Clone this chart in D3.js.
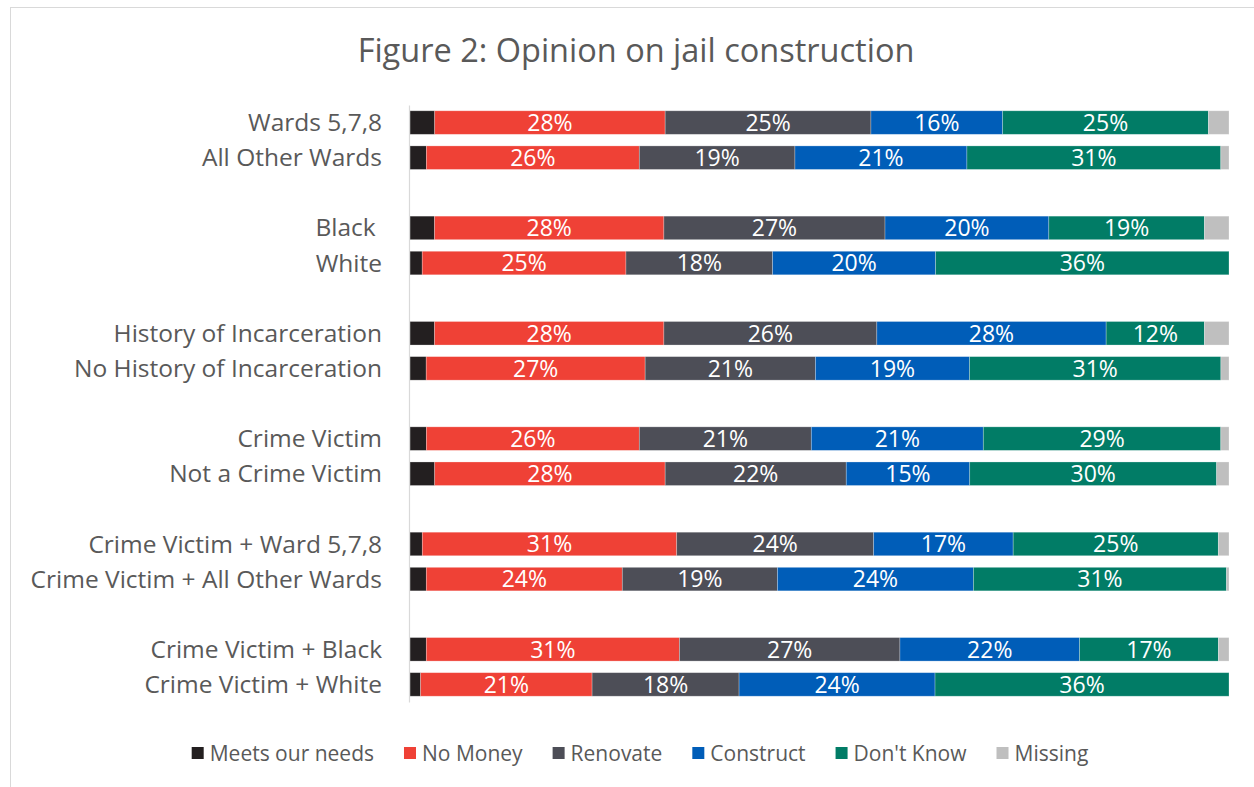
<!DOCTYPE html>
<html>
<head>
<meta charset="utf-8">
<script src="https://cdn.jsdelivr.net/npm/d3@7"></script>
<style>
  html, body { margin: 0; padding: 0; background: #fff; }
  svg { display: block; font-family: "Open Sans", "Calibri", sans-serif; }
</style>
</head>
<body>
<svg id="chart" width="1254" height="787"></svg>
<script>
// Survey groups, shown in pairs
const categories = [
  "Wards 5,7,8", "All Other Wards",
  "Black ", "White",
  "History of Incarceration", "No History of Incarceration",
  "Crime Victim", "Not a Crime Victim",
  "Crime Victim + Ward 5,7,8", "Crime Victim + All Other Wards",
  "Crime Victim + Black", "Crime Victim + White"
];

// Share of respondents (%) per answer
const meetsOurNeeds = [3, 2, 3, 1.5, 3, 2, 2, 3, 1.5, 2, 2, 1.3];
const noMoney       = [28, 26, 28, 25, 28, 27, 26, 28, 31, 24, 31, 21];
const renovate      = [25, 19, 27, 18, 26, 21, 21, 22, 24, 19, 27, 18];
const construct     = [16, 21, 20, 20, 28, 19, 21, 15, 17, 24, 22, 24];
const dontKnow      = [25, 31, 19, 36, 12, 31, 29, 30, 25, 31, 17, 36];
const missing       = [2.5, 1, 3, 0, 3, 1, 1, 1.5, 1.3, 0.3, 1.3, 0];

const seriesNames  = ["Meets our needs", "No Money", "Renovate", "Construct", "Don't Know", "Missing"];
const seriesValues = [meetsOurNeeds, noMoney, renovate, construct, dontKnow, missing];
const seriesColors = ["#231f20", "#ef4136", "#4d4e57", "#005db8", "#017c66", "#bfbfbf"];
const labelledSeries = ["No Money", "Renovate", "Construct", "Don't Know"];

const svg = d3.select("#chart");

// chart frame
svg.append("rect")
  .attr("x", 10.5).attr("y", 7.5)
  .attr("width", 1300).attr("height", 900)
  .attr("fill", "#fff").attr("stroke", "#d9d9d9").attr("stroke-width", 1);

// title
svg.append("text")
  .attr("x", 636).attr("y", 62)
  .attr("text-anchor", "middle")
  .attr("fill", "#595959")
  .attr("font-size", 32.5)
  .text("Figure 2: Opinion on jail construction");

// rows, with a blank slot between each pair
const rows = categories.map((c, i) => {
  const r = { key: "r" + i, label: c };
  seriesNames.forEach((s, j) => { r[s] = seriesValues[j][i]; });
  return r;
});
const slots = [];
rows.forEach((r, i) => {
  if (i > 0 && i % 2 === 0) slots.push({ key: "gap" + i, label: "" });
  slots.push(r);
});

const y = d3.scaleBand()
  .domain(slots.map(d => d.key))
  .range([105, 702])
  .paddingInner(0.33)
  .paddingOuter(0.165);

const x = d3.scaleLinear().domain([0, 1]).range([410, 1229]);

const stacked = d3.stack()
  .keys(seriesNames)
  .offset(d3.stackOffsetExpand)(rows);

const color = d3.scaleOrdinal().domain(seriesNames).range(seriesColors);

// bars
const layers = svg.append("g").selectAll("g")
  .data(stacked)
  .join("g")
  .attr("fill", d => color(d.key));

layers.selectAll("rect")
  .data(d => d.map(v => ({ v, key: d.key })))
  .join("rect")
  .attr("x", d => x(d.v[0]))
  .attr("y", d => y(d.v.data.key))
  .attr("width", d => Math.max(0, x(d.v[1]) - x(d.v[0])))
  .attr("height", y.bandwidth())
  .attr("stroke", "#ffffff")
  .attr("stroke-opacity", 0.35)
  .attr("stroke-width", 0.75);

// value labels
layers.filter(d => labelledSeries.includes(d.key))
  .selectAll("text")
  .data(d => d.map(v => ({ v, key: d.key })))
  .join("text")
  .attr("x", d => (x(d.v[0]) + x(d.v[1])) / 2)
  .attr("y", d => y(d.v.data.key) + y.bandwidth() / 2)
  .attr("dy", "0.36em")
  .attr("text-anchor", "middle")
  .attr("fill", "#ffffff")
  .attr("font-size", 23)
  .text(d => d3.format(".0f")(d.v.data[d.key]) + "%");

// category axis
const labelOf = new Map(slots.map(d => [d.key, d.label]));
const axis = svg.append("g")
  .attr("transform", "translate(409,0)")
  .call(d3.axisLeft(y).tickSize(0).tickSizeOuter(0).tickPadding(27).tickFormat(k => labelOf.get(k)));
axis.select(".domain").attr("stroke", "#d9d9d9").attr("stroke-width", 1.2);
axis.selectAll(".tick text")
  .attr("fill", "#595959")
  .attr("font-size", 24.5)
  .attr("font-family", "'Open Sans', Calibri, sans-serif")
  .attr("dy", "0.35em")
  .style("white-space", "pre");

// legend
const legend = svg.append("g");
const items = legend.selectAll("g")
  .data(seriesNames)
  .join("g");
items.append("rect")
  .attr("width", 12).attr("height", 12)
  .attr("y", -6)
  .attr("fill", d => color(d));
items.append("text")
  .attr("x", 18)
  .attr("dy", "0.36em")
  .attr("fill", "#595959")
  .attr("font-size", 21)
  .text(d => d);
const widths = [];
items.each(function () {
  widths.push(18 + this.querySelector("text").getComputedTextLength());
});
const gap = 30;
const total = d3.sum(widths) + gap * (widths.length - 1);
let cx = 640 - total / 2;
items.attr("transform", (d, i) => {
  const t = `translate(${cx},753)`;
  cx += widths[i] + gap;
  return t;
});
</script>
</body>
</html>
